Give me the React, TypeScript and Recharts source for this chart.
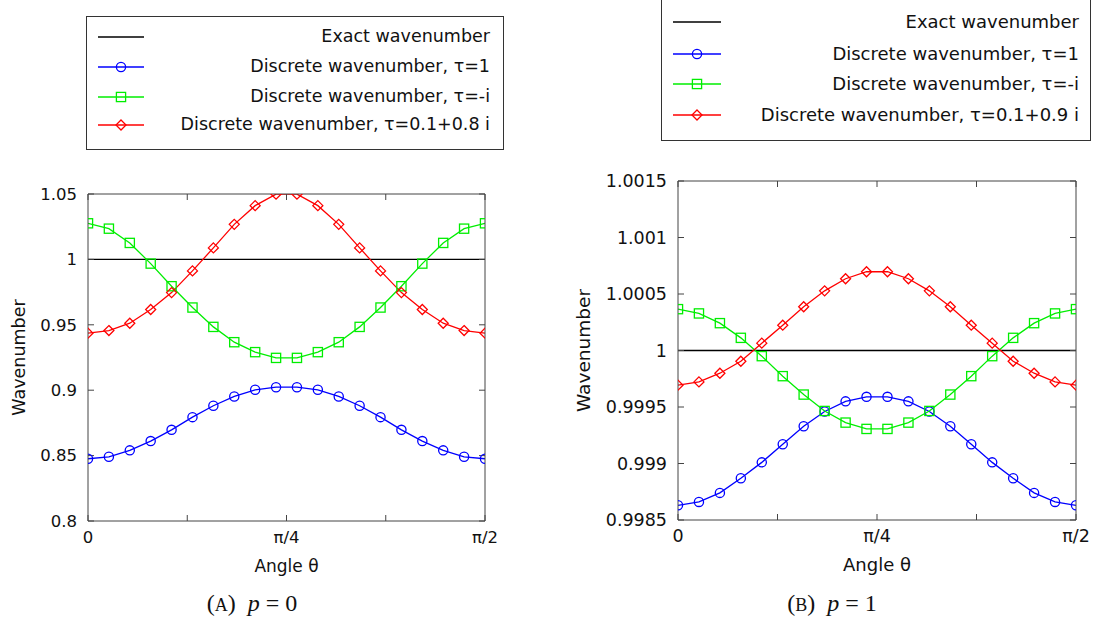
import { LineChart, Line, XAxis, YAxis, Legend } from "recharts";

// 20 sample angles between 0 and pi/2
const angles = Array.from({ length: 20 }, (_, i) => (i * Math.PI) / 38);

const exact = [1, 1, 1, 1, 1, 1, 1, 1, 1, 1, 1, 1, 1, 1, 1, 1, 1, 1, 1, 1];

// (A) p = 0
const tau1A = [0.8476, 0.8491, 0.854, 0.8611, 0.8697, 0.8794, 0.8881, 0.8952, 0.9003, 0.9023, 0.9023, 0.9003, 0.8952, 0.8881, 0.8794, 0.8697, 0.8611, 0.854, 0.8491, 0.8476];
const tauIA = [1.0276, 1.0235, 1.0126, 0.9968, 0.9795, 0.9632, 0.9484, 0.9367, 0.9291, 0.9247, 0.9247, 0.9291, 0.9367, 0.9484, 0.9632, 0.9795, 0.9968, 1.0126, 1.0235, 1.0276];
const tauMixA = [0.9436, 0.9456, 0.9512, 0.9617, 0.9746, 0.9912, 1.0088, 1.0268, 1.0411, 1.0499, 1.0499, 1.0411, 1.0268, 1.0088, 0.9912, 0.9746, 0.9617, 0.9512, 0.9456, 0.9436];

// (B) p = 1
const tau1B = [0.99863, 0.99866, 0.99874, 0.99887, 0.99901, 0.99917, 0.99933, 0.99946, 0.99955, 0.99959, 0.99959, 0.99955, 0.99946, 0.99933, 0.99917, 0.99901, 0.99887, 0.99874, 0.99866, 0.99863];
const tauIB = [1.000366, 1.000328, 1.000242, 1.000112, 0.99995, 0.999773, 0.99961, 0.999465, 0.999362, 0.999306, 0.999306, 0.999362, 0.999465, 0.99961, 0.999773, 0.99995, 1.000112, 1.000242, 1.000328, 1.000366];
const tauMixB = [0.999693, 0.999722, 0.999799, 0.999905, 1.000065, 1.000224, 1.000387, 1.000528, 1.000635, 1.000697, 1.000697, 1.000635, 1.000528, 1.000387, 1.000224, 1.000065, 0.999905, 0.999799, 0.999722, 0.999693];

const xTicks = [0, Math.PI / 8, Math.PI / 4, (3 * Math.PI) / 8, Math.PI / 2];
const xTickLabels = ["0", "", "π/4", "", "π/2"];
const yTicksA = [0.8, 0.85, 0.9, 0.95, 1, 1.05];
const yTicksB = [0.9985, 0.999, 0.9995, 1, 1.0005, 1.001, 1.0015];

const legendNamesA = ["Exact wavenumber", "Discrete wavenumber, τ=1", "Discrete wavenumber, τ=-i", "Discrete wavenumber, τ=0.1+0.8 i"];
const legendNamesB = ["Exact wavenumber", "Discrete wavenumber, τ=1", "Discrete wavenumber, τ=-i", "Discrete wavenumber, τ=0.1+0.9 i"];
const legendOrder = ["exact", "tau1", "tauI", "tauMix"];

const FONT = "'DejaVu Sans', sans-serif";
const AXIS = "#444";

const seriesStyle: Record<string, { color: string; marker: string }> = {
  exact: { color: "#000000", marker: "none" },
  tau1: { color: "#0000ff", marker: "circle" },
  tauI: { color: "#00ee00", marker: "square" },
  tauMix: { color: "#ff0000", marker: "diamond" },
};

function Marker({ kind, cx, cy, color }: any) {
  if (kind === "circle")
    return <circle cx={cx} cy={cy} r={4.6} fill="none" stroke={color} strokeWidth={1.3} />;
  if (kind === "square")
    return <rect x={cx - 4.6} y={cy - 4.6} width={9.2} height={9.2} fill="none" stroke={color} strokeWidth={1.3} />;
  if (kind === "diamond")
    return (
      <polygon
        points={`${cx},${cy - 5} ${cx + 5},${cy} ${cx},${cy + 5} ${cx - 5},${cy}`}
        fill="none"
        stroke={color}
        strokeWidth={1.3}
      />
    );
  return null;
}

function makeDot(key: string) {
  const st = seriesStyle[key];
  return (p: any) => {
    if (p.cx == null || p.cy == null) return <g key={`e-${key}-${p.index}`} />;
    return (
      <g key={`d-${key}-${p.index}`}>
        <Marker kind={st.marker} cx={p.cx} cy={p.cy} color={st.color} />
      </g>
    );
  };
}

function LegendBox({ payload, width, height, rows, fontSize, lineX1, lineX2, padRight }: any) {
  const items = [...(payload || [])].sort(
    (a: any, b: any) => legendOrder.indexOf(a.dataKey) - legendOrder.indexOf(b.dataKey)
  );
  return (
    <div
      style={{
        width,
        height,
        boxSizing: "border-box",
        border: "1px solid #333",
        background: "#fff",
        position: "relative",
        fontFamily: FONT,
        fontSize,
        color: "#111",
      }}
    >
      {items.map((entry: any, i: number) => {
        const st = seriesStyle[entry.dataKey as string];
        const cy = rows[i];
        return (
          <div key={entry.dataKey}>
            <svg
              style={{ position: "absolute", left: 0, top: cy - 8 }}
              width={lineX2 + 4}
              height={16}
            >
              <line x1={lineX1} y1={8} x2={lineX2} y2={8} stroke={st.color} strokeWidth={1.3} />
              <Marker kind={st.marker} cx={(lineX1 + lineX2) / 2} cy={8} color={st.color} />
            </svg>
            <div
              style={{
                position: "absolute",
                right: padRight,
                top: cy - fontSize * 0.62,
                whiteSpace: "nowrap",
                lineHeight: 1.2,
              }}
            >
              {entry.value}
            </div>
          </div>
        );
      })}
    </div>
  );
}

function Panel({
  left, width, margin, yAxisWidth, tau1, tauI, tauMix, names, yDomain, yTicks,
  fontSize, yLabelDx, legend,
}: any) {
  const data = angles.map((a, i) => ({
    angle: a,
    exact: exact[i],
    tau1: tau1[i],
    tauI: tauI[i],
    tauMix: tauMix[i],
  }));
  const tickStyle = { fontSize, fontFamily: FONT, fill: "#111" };
  return (
    <div style={{ position: "absolute", left, top: 0 }}>
      <LineChart width={width} height={623} data={data} margin={margin}>
        <XAxis
          xAxisId="b"
          dataKey="angle"
          type="number"
          domain={[0, Math.PI / 2]}
          allowDataOverflow
          ticks={xTicks}
          tickFormatter={(_v: number, i: number) => xTickLabels[i]}
          interval={0}
          height={60}
          tickSize={-6}
          tickMargin={16}
          stroke={AXIS}
          tick={tickStyle}
          label={{ value: "Angle θ", position: "insideBottom", offset: 9, style: { fontSize: fontSize + 0.5, fontFamily: FONT, fill: "#111" } }}
        />
        <XAxis
          xAxisId="t"
          orientation="top"
          type="number"
          dataKey="angle"
          domain={[0, Math.PI / 2]}
          allowDataOverflow
          ticks={xTicks}
          tickFormatter={() => ""}
          interval={0}
          height={1}
          tickSize={-6}
          stroke={AXIS}
        />
        <YAxis
          yAxisId="l"
          type="number"
          domain={yDomain}
          allowDataOverflow
          ticks={yTicks}
          interval={0}
          width={yAxisWidth}
          tickSize={-6}
          tickMargin={17}
          stroke={AXIS}
          tick={tickStyle}
          label={{ value: "Wavenumber", angle: -90, position: "center", dx: yLabelDx, style: { fontSize: fontSize + 1, fontFamily: FONT, fill: "#111", textAnchor: "middle" } }}
        />
        <YAxis
          yAxisId="r"
          orientation="right"
          type="number"
          domain={yDomain}
          allowDataOverflow
          ticks={yTicks}
          interval={0}
          width={1}
          tickSize={-6}
          tickFormatter={() => ""}
          stroke={AXIS}
        />
        <Legend
          layout="vertical"
          align="center"
          verticalAlign="middle"
          wrapperStyle={{ left: legend.left, top: legend.top, width: legend.width, height: legend.height }}
          content={(props: any) => <LegendBox payload={props.payload} {...legend} />}
        />
        {/* exact line is tied to the mirror axes (same domains) so they get drawn as the frame */}
        <Line xAxisId="t" yAxisId="r" type="linear" dataKey="exact" name={names[0]} stroke={seriesStyle.exact.color} strokeWidth={1.3} dot={false} activeDot={false} isAnimationActive={false} />
        <Line xAxisId="b" yAxisId="l" type="linear" dataKey="tau1" name={names[1]} stroke={seriesStyle.tau1.color} strokeWidth={1.3} dot={makeDot("tau1")} activeDot={false} isAnimationActive={false} />
        <Line xAxisId="b" yAxisId="l" type="linear" dataKey="tauI" name={names[2]} stroke={seriesStyle.tauI.color} strokeWidth={1.3} dot={makeDot("tauI")} activeDot={false} isAnimationActive={false} />
        <Line xAxisId="b" yAxisId="l" type="linear" dataKey="tauMix" name={names[3]} stroke={seriesStyle.tauMix.color} strokeWidth={1.3} dot={makeDot("tauMix")} activeDot={false} isAnimationActive={false} />
      </LineChart>
    </div>
  );
}

function Caption({ center, letter, p }: any) {
  return (
    <div
      style={{
        position: "absolute",
        left: center - 100,
        width: 200,
        top: 590,
        textAlign: "center",
        fontFamily: "'Liberation Serif', 'DejaVu Serif', serif",
        fontSize: 24,
        color: "#111",
        whiteSpace: "pre",
      }}
    >
      (<span style={{ fontSize: 18 }}>{letter}</span>){"  "}<i>p</i>{" = "}{p}
    </div>
  );
}

export default function App() {
  return (
    <div style={{ position: "absolute", left: 0, top: 0, width: 1099, height: 623, background: "#fff", overflow: "hidden" }}>
      <Panel
        left={0}
        width={540}
        margin={{ top: 193, right: 54, bottom: 42, left: 0 }}
        yAxisWidth={88}
        tau1={tau1A}
        tauI={tauIA}
        tauMix={tauMixA}
        names={legendNamesA}
        yDomain={[0.8, 1.05]}
        yTicks={yTicksA}
        fontSize={16.5}
        yLabelDx={-25}
        legend={{ left: 86, top: 16, width: 418, height: 134, rows: [20, 50, 80, 108], fontSize: 17.5, lineX1: 11, lineX2: 57, padRight: 13 }}
      />
      <Panel
        left={560}
        width={539}
        margin={{ top: 180, right: 22, bottom: 43, left: 0 }}
        yAxisWidth={118}
        tau1={tau1B}
        tauI={tauIB}
        tauMix={tauMixB}
        names={legendNamesB}
        yDomain={[0.9985, 1.0015]}
        yTicks={yTicksB}
        fontSize={17.5}
        yLabelDx={-36}
        legend={{ left: 101, top: -20, width: 430, height: 161, rows: [41, 73, 103, 134], fontSize: 18, lineX1: 11, lineX2: 59, padRight: 11 }}
      />
      <Caption center={252} letter="A" p={0} />
      <Caption center={832} letter="B" p={1} />
    </div>
  );
}
